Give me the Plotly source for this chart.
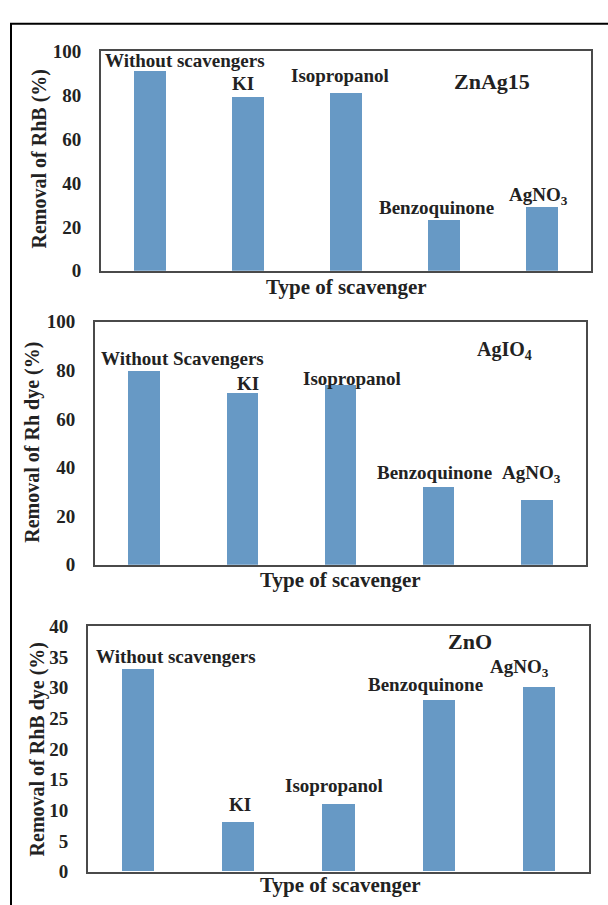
import plotly.graph_objects as go

W, H = 608, 905

# ---------------- data ----------------
categories = ["Without scavengers", "KI", "Isopropanol", "Benzoquinone", "AgNO3"]
znag15_removal = [91, 79, 81, 23, 29]
agio4_removal = [80, 71, 74, 32, 27]
zno_removal = [33, 8, 11, 28, 30]

panel1_labels = ["Without scavengers", "KI", "Isopropanol", "Benzoquinone", "AgNO<sub>3</sub>"]
panel2_labels = ["Without Scavengers", "KI", "Isopropanol", "Benzoquinone", "AgNO<sub>3</sub>"]
panel3_labels = ["Without scavengers", "KI", "Isopropanol", "Benzoquinone", "AgNO<sub>3</sub>"]
sample_names = ["ZnAg15", "AgIO<sub>4</sub>", "ZnO"]
y_titles = ["Removal of RhB (%)", "Removal of Rh dye (%)", "Removal of RhB dye (%)"]
x_title = "Type of scavenger"

# ---------------- layout (pixels) ----------------
FONT = "Liberation Serif, Times New Roman, Times, DejaVu Serif, serif"
TXT = "#222222"
BAR = "#6799C5"
FRAME = "#4a4a4a"

panels = [
    dict(vals=znag15_removal, labels=panel1_labels, box=(101, 42, 591, 267), ymax=100, dtick=20,
         label_pos=[(185, 52), (243, 75), (340, 67), (436, 202), (538, 190)],
         name_pos=(492, 73), xt_pos=(346, 284), yt_pos=(39, 153)),
    dict(vals=agio4_removal, labels=panel2_labels, box=(95, 319, 586, 568), ymax=100, dtick=20,
         label_pos=[(182, 357), (248, 382), (352, 377), (434, 473), (531, 475)],
         name_pos=(504, 349), xt_pos=(340, 584), yt_pos=(33, 443)),
    dict(vals=zno_removal, labels=panel3_labels, box=(88, 631, 589, 882), ymax=40, dtick=5,
         label_pos=[(176, 662), (240, 813), (334, 794), (425, 691), (519, 674)],
         name_pos=(470, 647), xt_pos=(340, 896), yt_pos=(37, 757)),
]


def px(x, y):
    return x / W, 1 - y / H


fig = go.Figure()
annotations = []
layout = {}

for i, p in enumerate(panels):
    sfx = "" if i == 0 else str(i + 1)
    l, t, r, b = p["box"]
    fig.add_trace(go.Bar(
        x=list(range(len(categories))), y=p["vals"], width=0.32,
        marker=dict(color=BAR, line=dict(width=0)),
        xaxis="x" + sfx, yaxis="y" + sfx, showlegend=False,
        hovertext=categories,
    ))
    layout["xaxis" + sfx] = dict(
        domain=[l / W, r / W], range=[-0.5, len(categories) - 0.5], anchor="y" + sfx,
        showticklabels=False, ticks="", showgrid=False, zeroline=False,
        showline=True, mirror=True, linecolor=FRAME, linewidth=2,
    )
    layout["yaxis" + sfx] = dict(
        domain=[1 - b / H, 1 - t / H], range=[0, p["ymax"]], dtick=p["dtick"], anchor="x" + sfx,
        ticks="", showgrid=False, zeroline=False,
        showline=True, mirror=True, linecolor=FRAME, linewidth=2,
        tickfont=dict(family=FONT, size=19, color=TXT, weight="bold"),
        ticklabelstandoff=14,
    )
    for txt, (cx, cy) in zip(p["labels"], p["label_pos"]):
        ax, ay = px(cx, cy)
        annotations.append(dict(text=txt, x=ax, y=ay, xref="paper", yref="paper",
                                xanchor="center", yanchor="middle", showarrow=False,
                                font=dict(family=FONT, size=19, color=TXT, weight="bold")))
    ax, ay = px(*p["name_pos"])
    annotations.append(dict(text=sample_names[i], x=ax, y=ay, xref="paper", yref="paper",
                            xanchor="center", yanchor="middle", showarrow=False,
                            font=dict(family=FONT, size=22 if i != 1 else 20, color=TXT, weight="bold")))
    ax, ay = px(*p["xt_pos"])
    annotations.append(dict(text=x_title, x=ax, y=ay, xref="paper", yref="paper",
                            xanchor="center", yanchor="middle", showarrow=False,
                            font=dict(family=FONT, size=21, color=TXT, weight="bold")))
    ax, ay = px(*p["yt_pos"])
    annotations.append(dict(text=y_titles[i], x=ax, y=ay, xref="paper", yref="paper",
                            xanchor="center", yanchor="middle", showarrow=False, textangle=-90,
                            font=dict(family=FONT, size=20, color=TXT, weight="bold")))

x0, y1 = px(11, 14)
fig.update_layout(
    width=W, height=H, margin=dict(l=0, r=0, t=0, b=0),
    paper_bgcolor="white", plot_bgcolor="white",
    font=dict(family=FONT),
    annotations=annotations,
    shapes=[dict(type="rect", xref="paper", yref="paper", x0=x0, x1=1.05, y0=-0.05, y1=y1,
                 line=dict(color="black", width=2), layer="below")],
    bargap=0,
    **layout,
)

fig.write_html("out.html")
